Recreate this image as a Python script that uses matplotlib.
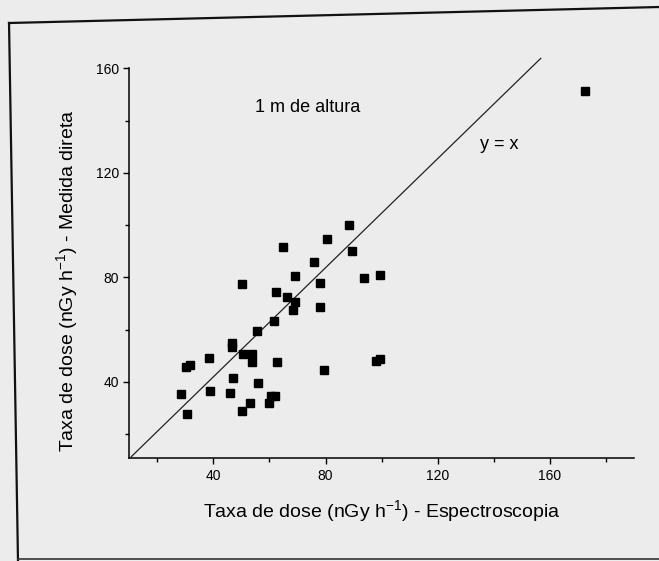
import matplotlib
matplotlib.use("Agg")
import matplotlib.pyplot as plt
from matplotlib.lines import Line2D
from matplotlib.ticker import MultipleLocator

plt.rcParams['font.family'] = ['Liberation Sans', 'DejaVu Sans']
plt.rcParams['mathtext.fontset'] = 'custom'
plt.rcParams['mathtext.rm'] = 'Liberation Sans'
plt.rcParams['mathtext.it'] = 'Liberation Sans'

# dose rate: spectroscopy (x) vs direct measurement (y), nGy/h
espectro = [172.5, 88.4, 80.5, 65.0, 89.6, 75.8, 69.2, 93.6, 99.6, 50.3,
            78.1, 62.4, 66.4, 69.1, 68.3, 78.1, 61.5, 55.4, 46.6, 46.8,
            38.5, 50.6, 53.6, 53.6, 62.7, 30.4, 31.5, 79.5, 98.1, 99.4,
            46.9, 55.8, 28.5, 38.7, 45.9, 60.4, 61.9, 59.7, 53.0, 50.1,
            30.7]
medida = [151.4, 100.1, 94.8, 91.6, 90.0, 85.8, 80.6, 79.9, 80.8, 77.4,
          77.8, 74.5, 72.5, 70.5, 67.7, 68.7, 63.4, 59.5, 54.8, 53.5,
          49.3, 50.7, 50.7, 47.8, 47.7, 45.6, 46.4, 44.7, 48.1, 48.7,
          41.5, 39.6, 35.4, 36.6, 35.7, 34.6, 34.8, 32.1, 31.8, 28.8,
          27.6]

# reference line as it appears in the scan
linha_x = [10.7, 156.8]
linha_y = [11.4, 163.8]

bg = '#ececec'
fig = plt.figure(figsize=(6.59, 5.61), dpi=100, facecolor=bg)
ax = fig.add_axes([0.1962, 0.1831, 0.7656, 0.6952])
ax.set_facecolor('none')

ax.plot(linha_x, linha_y, color='#222222', lw=0.9, clip_on=False)
ax.plot(espectro, medida, linestyle='none', marker='s', markersize=6,
        color='black', clip_on=False)

ax.set_xlim(10, 190)
ax.set_ylim(10.8, 160)
ax.xaxis.set_minor_locator(MultipleLocator(20))
ax.yaxis.set_minor_locator(MultipleLocator(20))
ax.set_xticks([40, 80, 120, 160])
ax.set_yticks([40, 80, 120, 160])

for s in ['top', 'right']:
    ax.spines[s].set_visible(False)
for s in ['left', 'bottom']:
    ax.spines[s].set_linewidth(1.1)
ax.tick_params(which='major', direction='out', length=4.5, width=1.0,
               labelsize=10, pad=3)
ax.tick_params(which='minor', direction='out', length=2.6, width=1.0)

ax.set_xlabel('Taxa de dose (nGy h$^{\\mathregular{-1}}$) - Espectroscopia',
              fontsize=14, labelpad=11)
ax.set_ylabel('Taxa de dose (nGy h$^{\\mathregular{-1}}$) - Medida direta',
              fontsize=14)
ax.yaxis.set_label_coords(-0.097, 0.455)

ax.text(73.7, 145.1, '1 m de altura', fontsize=13, ha='center', va='center')
ax.text(142, 131, 'y = x', fontsize=13, ha='center', va='center')

# frame of the scanned page
fig.add_artist(Line2D([0.0137, 1.0], [0.959, 0.9875], color='#111111',
                      lw=1.6, transform=fig.transFigure))
fig.add_artist(Line2D([0.0137, 0.0273], [0.959, 0.0], color='#111111',
                      lw=1.6, transform=fig.transFigure))
fig.add_artist(Line2D([0.0273, 1.0], [0.003, 0.003], color='#333333',
                      lw=1.2, transform=fig.transFigure))

fig.savefig('out.png', dpi=100, facecolor=bg)
